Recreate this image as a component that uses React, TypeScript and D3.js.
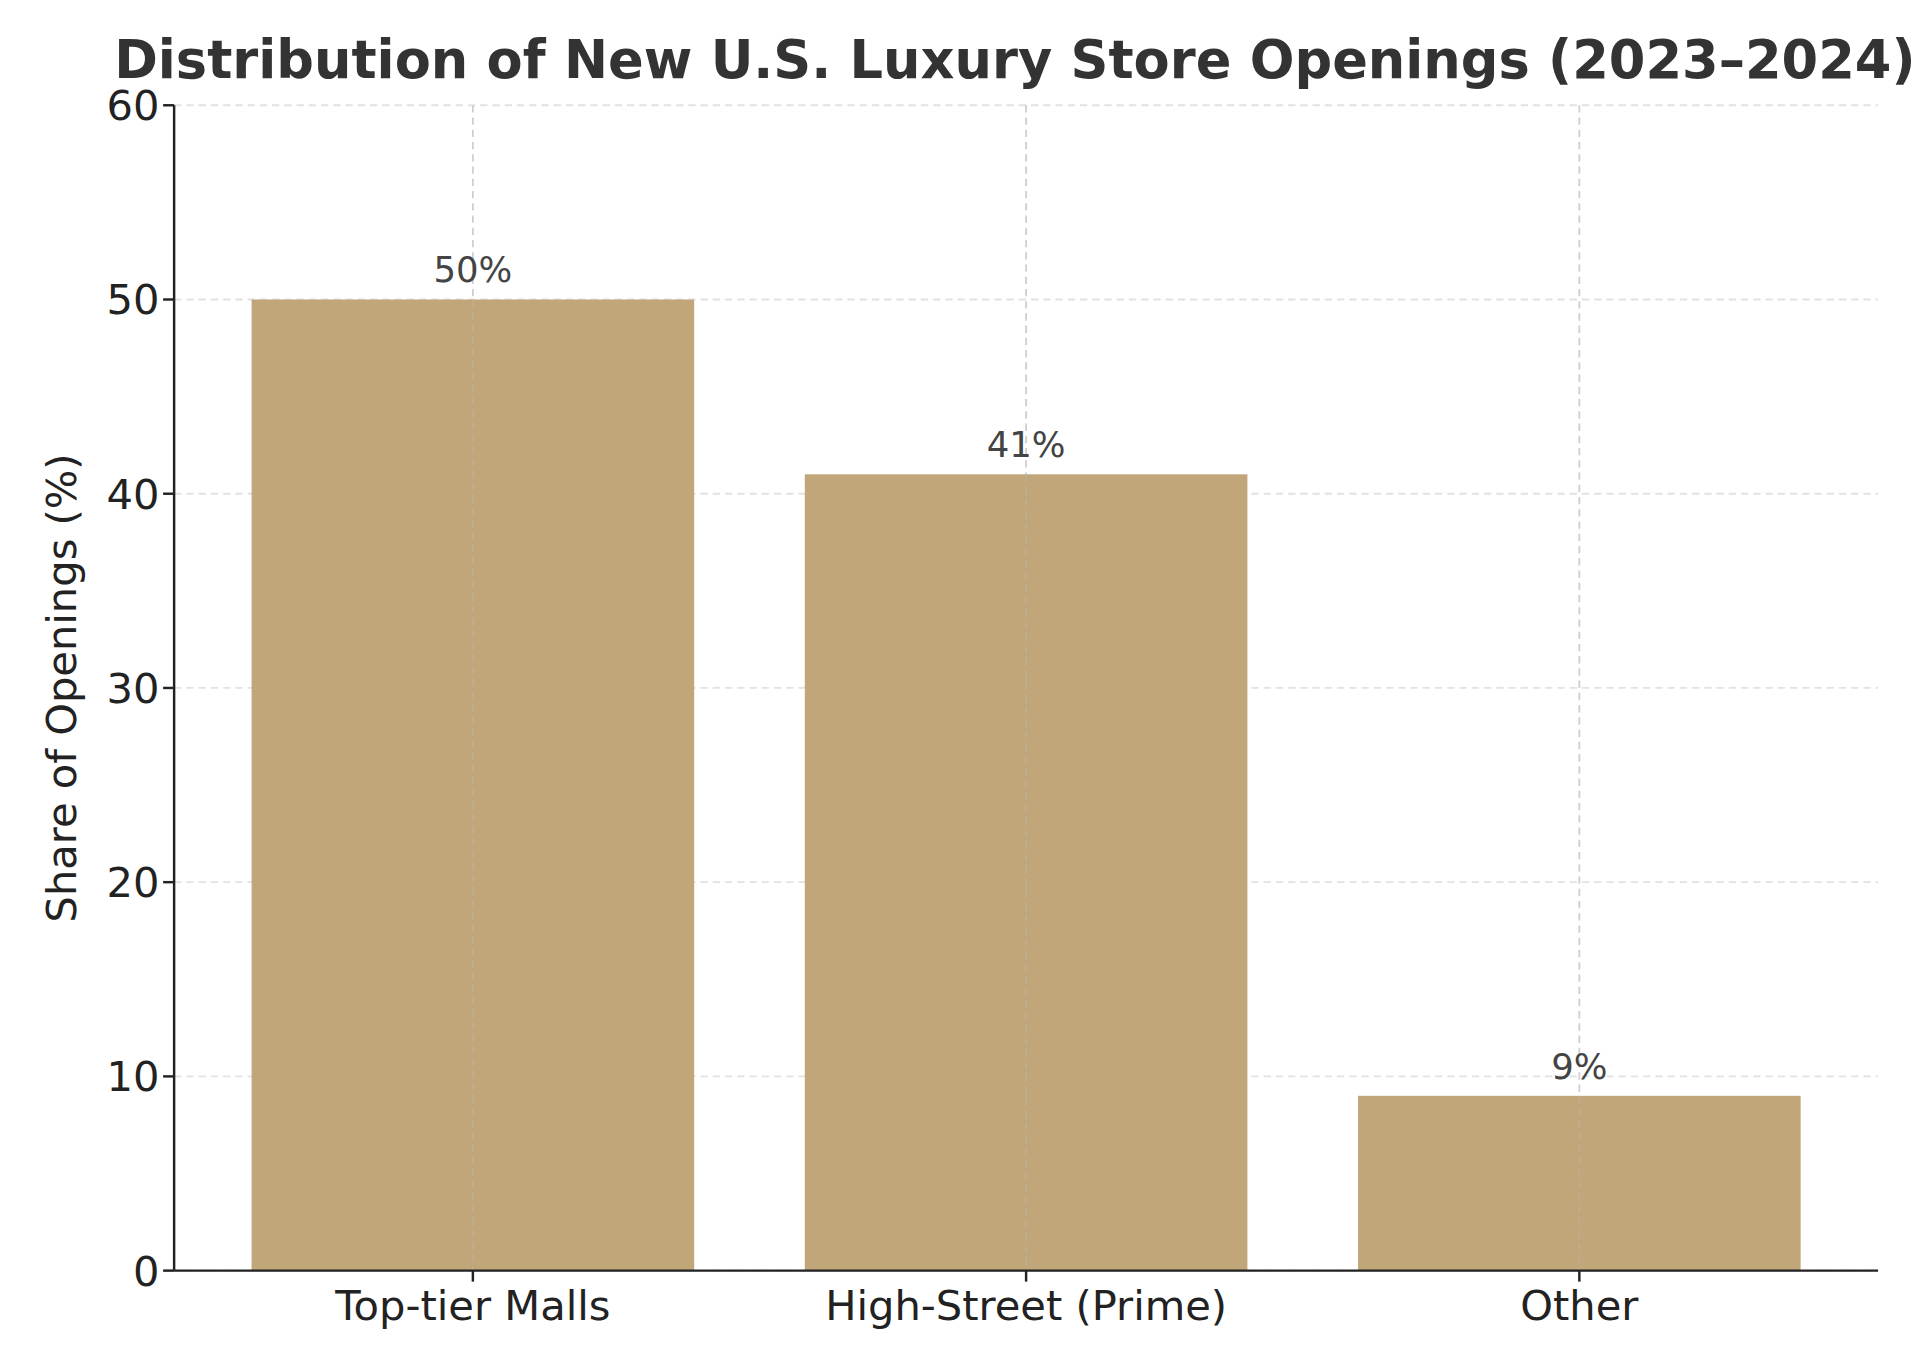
import * as d3 from "d3";
import React from "react";

const categories = ["Top-tier Malls", "High-Street (Prime)", "Other"];
const shares = [50, 41, 9];
const yTicks = [0, 10, 20, 30, 40, 50, 60];

const W = 1568;
const H = 1120;
const left = 142;
const right = 1534;
const top = 86;
const bottom = 1038;

export default function App() {
  const x = d3.scaleLinear().domain([-0.54, 2.54]).range([left, right]);
  const y = d3.scaleLinear().domain([0, 60]).range([bottom, top]);
  const barW = x(0.4) - x(-0.4);
  const font = "DejaVu Sans, sans-serif";

  return (
    <svg
      width={1920}
      height={1371}
      viewBox={`0 0 ${W} ${H}`}
      style={{ position: "absolute", left: 0, top: 0, background: "#fff" }}
      fontFamily={font}
    >
      {/* grid */}
      {yTicks.map((t) => (
        <line key={"gy" + t} x1={left} x2={right} y1={y(t)} y2={y(t)} stroke="#e2e2e2" strokeWidth={1.5} strokeDasharray="6,4" />
      ))}
      {categories.map((c, i) => (
        <line key={"gx" + c} x1={x(i)} x2={x(i)} y1={top} y2={bottom} stroke="#cfcfcf" strokeWidth={1.5} strokeDasharray="6,4" />
      ))}
      {/* bars */}
      {categories.map((c, i) => (
        <rect key={c} x={x(i) - barW / 2} y={y(shares[i])} width={barW} height={bottom - y(shares[i])} fill="#C0A678" />
      ))}
      {categories.map((c, i) => (
        <line key={"gx2" + c} x1={x(i)} x2={x(i)} y1={y(shares[i])} y2={bottom} stroke="#b8b8b8" strokeOpacity={0.45} strokeWidth={1.5} strokeDasharray="6,4" />
      ))}
      {/* value labels */}
      {categories.map((c, i) => (
        <text key={"v" + c} x={x(i)} y={y(shares[i]) - 14} textAnchor="middle" fontSize={29} fill="#444">
          {shares[i]}%
        </text>
      ))}
      {/* axes */}
      <line x1={left} x2={left} y1={top} y2={bottom} stroke="#222" strokeWidth={2} />
      <line x1={left} x2={right} y1={bottom} y2={bottom} stroke="#222" strokeWidth={2} />
      {yTicks.map((t) => (
        <g key={"ty" + t}>
          <line x1={left - 9} x2={left} y1={y(t)} y2={y(t)} stroke="#222" strokeWidth={2} />
          <text x={left - 12} y={y(t)} dy="0.36em" textAnchor="end" fontSize={34} fill="#222">
            {t}
          </text>
        </g>
      ))}
      {categories.map((c, i) => (
        <g key={"tx" + c}>
          <line x1={x(i)} x2={x(i)} y1={bottom} y2={bottom + 9} stroke="#222" strokeWidth={2} />
          <text x={x(i)} y={bottom + 40} textAnchor="middle" fontSize={34} fill="#222">
            {c}
          </text>
        </g>
      ))}
      <text transform={`translate(62,${(top + bottom) / 2}) rotate(-90)`} textAnchor="middle" fontSize={34} fill="#222">
        Share of Openings (%)
      </text>
      <text x={93} y={64} fontSize={43} fontWeight="bold" fill="#333">
        Distribution of New U.S. Luxury Store Openings (2023–2024)
      </text>
    </svg>
  );
}
